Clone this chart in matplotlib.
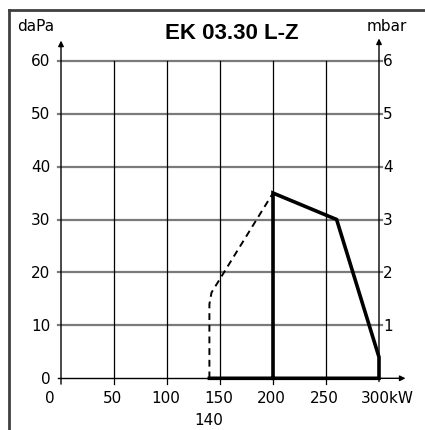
import matplotlib.pyplot as plt
from matplotlib.lines import Line2D

# Kennlinie EK 03.30 L-Z
dash_x = [140, 140, 142, 200]
dash_y = [0, 14, 16.2, 35]
solid_x = [140, 300, 300, 260, 200, 200]
solid_y = [0, 0, 4, 30, 35, 0]

x_ticks = [0, 50, 100, 150, 200, 250, 300]
x_labels = ['0', '50', '100', '150', '200', '250', '300kW']
y_ticks = [0, 10, 20, 30, 40, 50, 60]
mbar_labels = ['', '1', '2', '3', '4', '5', '6']

fig = plt.figure(figsize=(4.25, 4.31), dpi=100)
ax = fig.add_axes([61 / 425, 51.7 / 431, 318 / 425, 317.6 / 431])
ax.set_xlim(0, 300)
ax.set_ylim(0, 60)
ax.axis('off')

# Rahmen oben und links
fig.add_artist(Line2D([9 / 425, 1], [420 / 431, 420 / 431], color='#404040', lw=2))
fig.add_artist(Line2D([9 / 425, 9 / 425], [0, 420 / 431], color='#404040', lw=2))

# Gitter
for yv in y_ticks[1:]:
    ax.plot([-3, 303], [yv, yv], color='#7a7a7a', lw=1.6, clip_on=False)
for xv in x_ticks[1:-1]:
    ax.plot([xv, xv], [-1, 60], color='black', lw=0.9, clip_on=False)
ax.plot([-3, 140], [0, 0], color='black', lw=1.0, clip_on=False)

# Achsen mit Pfeilen
arrow = dict(arrowstyle='-|>', color='black', lw=1.0, mutation_scale=8,
             shrinkA=0, shrinkB=0)
ax.annotate('', xy=(0, 63.8), xytext=(0, -1.1), arrowprops=arrow,
            annotation_clip=False)
ax.annotate('', xy=(300, 64.2), xytext=(300, -0.6), arrowprops=arrow,
            annotation_clip=False)
ax.annotate('', xy=(325, 0), xytext=(140, 0), arrowprops=arrow,
            annotation_clip=False)

# Kurven
ax.plot(dash_x, dash_y, color='black', lw=1.4, ls=(0, (3.5, 2.5)), clip_on=False)
ax.plot(solid_x, solid_y, color='black', lw=2.6, solid_joinstyle='miter',
        clip_on=False)

# Beschriftung
fs = 11
for yv in y_ticks:
    ax.text(-10, yv, str(yv), ha='right', va='center', fontsize=fs)
for yv, lab in zip(y_ticks, mbar_labels):
    ax.text(304, yv, lab, ha='left', va='center', fontsize=fs)
for xv, lab in zip(x_ticks, x_labels):
    if xv == 0:
        ax.text(-11, -3.6, lab, ha='center', va='center', fontsize=fs)
    elif xv == 300:
        ax.text(xv - 17, -3.6, lab, ha='left', va='center', fontsize=fs)
    else:
        ax.text(xv - 1.5, -3.6, lab, ha='center', va='center', fontsize=fs)
ax.text(139, -7.7, '140', ha='center', va='center', fontsize=fs)

ax.text(-41, 66.6, 'daPa', ha='left', va='center', fontsize=fs)
ax.text(288, 66.6, 'mbar', ha='left', va='center', fontsize=fs)
ax.text(161, 65.3, 'EK 03.30 L-Z', ha='center', va='center', fontsize=16,
        fontweight='bold', family='Liberation Sans')

fig.savefig('out.png', dpi=100)
